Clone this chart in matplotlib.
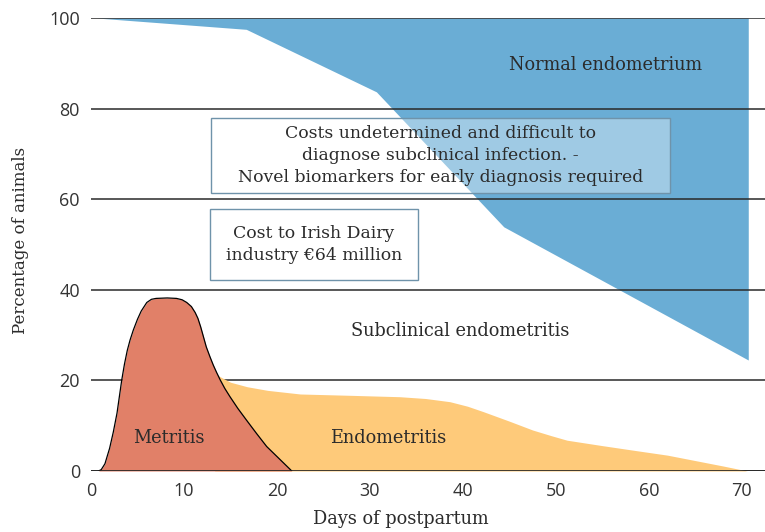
import matplotlib.pyplot as plt
from matplotlib.patches import Rectangle

# --- data ---
normal_x = [0.6, 16.7, 30.7, 44.4, 70.7]
normal_y = [100, 97.5, 83.7, 53.9, 24.5]

metritis_x = [0.8, 1.1, 1.5, 2.0, 2.4, 2.8, 3.05, 3.3, 3.6, 3.9, 4.2, 4.55, 5.0, 5.4,
              6.0, 6.5, 7.0, 8.2, 9.2, 9.8, 10.3, 10.8, 11.2, 11.5, 11.8, 12.1, 12.4,
              12.8, 13.15, 13.5, 13.9, 14.4, 14.95, 15.8, 16.7, 17.8, 18.9, 20.2, 21.6]
metritis_y = [0, 0.3, 1.6, 5.0, 8.6, 12.8, 16.4, 20.0, 23.6, 26.6, 28.9, 31.1, 33.5, 35.3,
              37.2, 37.9, 38.1, 38.2, 38.1, 37.8, 37.2, 36.3, 35.0, 33.7, 31.8, 29.6, 27.4,
              25.2, 23.4, 21.8, 20.1, 18.2, 16.4, 13.8, 11.3, 8.3, 5.4, 2.8, 0]

endo_x = [13.3, 13.9, 15.0, 16.8, 19.0, 22.5, 28.0, 33.2, 36.0, 38.6, 40.5, 42.2,
          45.0, 47.5, 49.5, 51.2, 55.0, 58.3, 62.0, 65.5, 68.0, 70.6]
endo_y = [21.6, 20.8, 19.6, 18.6, 17.8, 17.0, 16.7, 16.4, 16.0, 15.3, 14.3, 13.1,
          11.0, 9.05, 7.8, 6.8, 5.6, 4.6, 3.5, 2.1, 1.1, 0]

yticks = [0, 20, 40, 60, 80, 100]
xticks = [0, 10, 20, 30, 40, 50, 60, 70]

blue = "#6aadd5"
red = "#e18068"
yellow = "#feca7a"
serif = "DejaVu Serif"
textc = "#2b2b2b"

fig = plt.figure(figsize=(7.65, 5.32), dpi=100)
ax = fig.add_axes([91/765, 1 - 471/532, 1 - 91/765, (471 - 18)/532])

ax.fill_between(normal_x, normal_y, 100, color=blue, lw=0, zorder=1)
for v in yticks:
    ax.axhline(v, color="#2a2a2a", lw=1.1, zorder=2)
ax.fill_between(endo_x, 0, endo_y, color=yellow, lw=0, zorder=3)
ax.fill_between(metritis_x, 0, metritis_y, color=red, lw=0, zorder=4)
ax.plot(metritis_x, metritis_y, color="black", lw=0.9, zorder=5)
ax.axhline(0, color="#222222", lw=1.2, zorder=6)

ax.set_xlim(0, 72.5)
ax.set_ylim(0, 100)
ax.set_xticks(xticks)
ax.set_yticks(yticks)
ax.tick_params(length=0, labelsize=13, pad=8)
for lab in ax.get_xticklabels() + ax.get_yticklabels():
    lab.set_family("Open Sans")
    lab.set_color("#333333")
for s in ax.spines.values():
    s.set_visible(False)

ax.set_xlabel("Days of postpartum", family=serif, fontsize=12.8, color=textc)
ax.xaxis.set_label_coords(0.46, -0.085)
ax.set_ylabel("Percentage of animals", family=serif, fontsize=12, color=textc)
ax.yaxis.set_label_coords(-0.092, 0.51)

txt = dict(family=serif, color=textc, ha="center", va="center", zorder=8)
ax.text(55.3, 89.6, "Normal endometrium", fontsize=12.8, **txt)
ax.text(39.7, 31.0, "Subclinical endometritis", fontsize=12.8, **txt)
ax.text(8.4, 7.3, "Metritis", fontsize=12.8, **txt)
ax.text(32.0, 7.3, "Endometritis", fontsize=12.8, **txt)

# annotation boxes
ax.add_patch(Rectangle((12.9, 61.4), 49.4, 16.5, fc=(1, 1, 1, 0.36), ec="#6f93aa", lw=1.0, zorder=7))
ax.add_patch(Rectangle((12.8, 42.2), 22.4, 15.6, fc="white", ec="#6f93aa", lw=1.0, zorder=7))
ax.text(37.6, 69.6, "Costs undetermined and difficult to\ndiagnose subclinical infection. -\nNovel biomarkers for early diagnosis required",
        fontsize=12.4, linespacing=1.4, **txt)
ax.text(24.0, 50.0, "Cost to Irish Dairy\nindustry €64 million",
        fontsize=12.4, linespacing=1.35, **txt)

fig.savefig("out.png", dpi=100)
